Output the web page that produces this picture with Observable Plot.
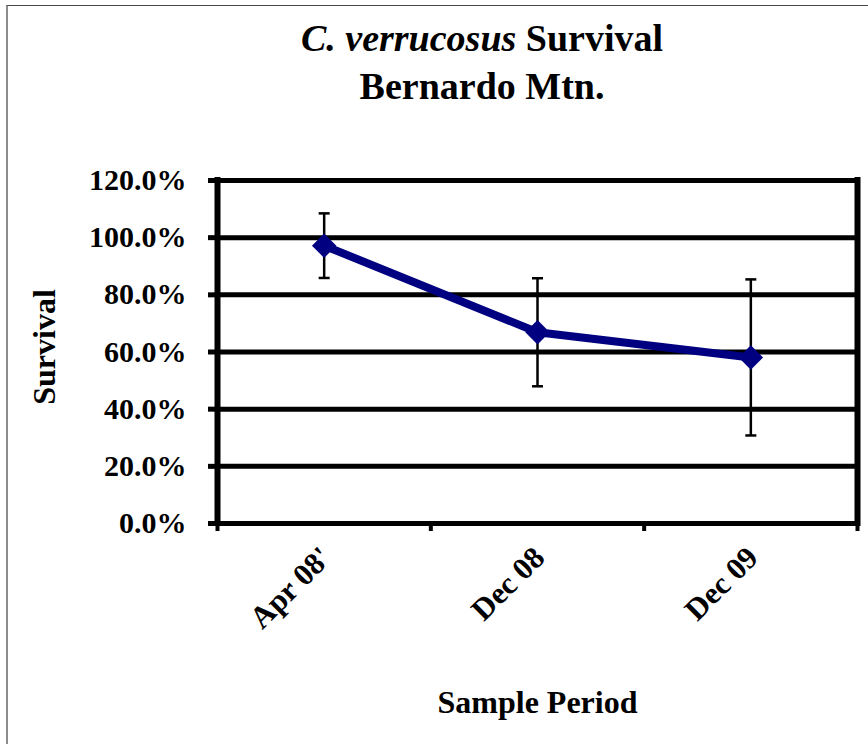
<!DOCTYPE html>
<html>
<head>
<meta charset="utf-8">
<script src="https://cdn.jsdelivr.net/npm/d3@7"></script>
<script src="https://cdn.jsdelivr.net/npm/@observablehq/plot@0.6"></script>
<style>
  html, body { margin: 0; padding: 0; background: #fff; overflow: hidden; }
  #chart { position: relative; width: 868px; height: 744px; font-family: "Liberation Serif", "Times New Roman", serif; }
  #border { position: absolute; left: 6px; top: 5px; width: 900px; height: 800px;
            border-left: 2px solid #8c8c8c; border-top: 1px solid #4a4a4a; box-sizing: border-box; }
  #title { position: absolute; left: 0; top: 0; width: 964px; height: 130px; text-align: center;
           font-weight: bold; font-size: 38px; line-height: 48px; padding-top: 14px; box-sizing: border-box; color: #000; }
  #plot { position: absolute; left: 0; top: 130px; }
</style>
</head>
<body>
<div id="chart">
  <div id="border"></div>
  <div id="title"><i>C. verrucosus</i> Survival<br>Bernardo Mtn.</div>
  <div id="plot"></div>
</div>
<script>
const categories = ["Apr 08'", "Dec 08", "Dec 09"];
const survival = [0.972, 0.669, 0.581];
const errors = [0.113, 0.189, 0.273];
const yTicks = [0, 0.2, 0.4, 0.6, 0.8, 1.0, 1.2];
const yLabel = "Survival";
const xLabel = "Sample Period";

const data = categories.map((c, i) => ({i, c, v: survival[i], lo: survival[i] - errors[i], hi: survival[i] + errors[i]}));
const caps = data.flatMap(d => [{i: d.i, y: d.lo}, {i: d.i, y: d.hi}]);
const boundaries = d3.range(categories.length + 1).map(k => k - 0.5);

const capSymbol = {draw(ctx) { ctx.moveTo(-5.5, 0); ctx.lineTo(5.5, 0); }};
const font = "'Liberation Serif', 'Times New Roman', serif";

const chart = Plot.plot({
  width: 868,
  height: 614,
  marginTop: 50,
  marginBottom: 221,
  marginLeft: 217,
  marginRight: 11,
  style: {fontFamily: font, fontWeight: "bold", background: "transparent", color: "black"},
  x: {type: "linear", domain: [-0.5, categories.length - 0.5]},
  y: {domain: [0, 1.2]},
  marks: [
    Plot.ruleY(yTicks, {stroke: "black", strokeWidth: 5}),
    Plot.axisY({ticks: yTicks, tickFormat: d3.format(".1%"), tickSize: 9, tickPadding: 22,
                fontSize: 30, fontWeight: "bold", fontFamily: font, stroke: "black", strokeWidth: 5, fill: "black", label: null}),
    Plot.axisX({ticks: boundaries, tickFormat: () => "", tickSize: 8, stroke: "black", strokeWidth: 4, label: null}),
    Plot.ruleX([boundaries[0], boundaries[boundaries.length - 1]], {stroke: "black", strokeWidth: 6, strokeLinecap: "square"}),
    Plot.ruleX(data, {x: "i", y1: "lo", y2: "hi", stroke: "black", strokeWidth: 2.5}),
    Plot.dot(caps, {x: "i", y: "y", symbol: capSymbol, r: 1, stroke: "black", strokeWidth: 2.5, fill: "none"}),
    Plot.line(data, {x: "i", y: "v", stroke: "#000080", strokeWidth: 8}),
    Plot.dot(data, {x: "i", y: "v", symbol: "diamond2", r: 11, fill: "#000080", stroke: "none"}),
    Plot.text(data, {x: "i", frameAnchor: "bottom", text: "c", rotate: -45, textAnchor: "end", lineAnchor: "bottom",
                     dx: 9, dy: 36, fontSize: 31, fontWeight: "bold", fontFamily: font, fill: "black"}),
    Plot.text([yLabel], {text: d => d, frameAnchor: "left", textAnchor: "middle", rotate: -90, dx: -173, dy: -5,
                         fontSize: 32, fontWeight: "bold", fontFamily: font, fill: "black"}),
    Plot.text([xLabel], {text: d => d, frameAnchor: "bottom", lineAnchor: "bottom", dy: 189,
                         fontSize: 32, fontWeight: "bold", fontFamily: font, fill: "black"})
  ]
});
document.getElementById("plot").appendChild(chart);
</script>
</body>
</html>
